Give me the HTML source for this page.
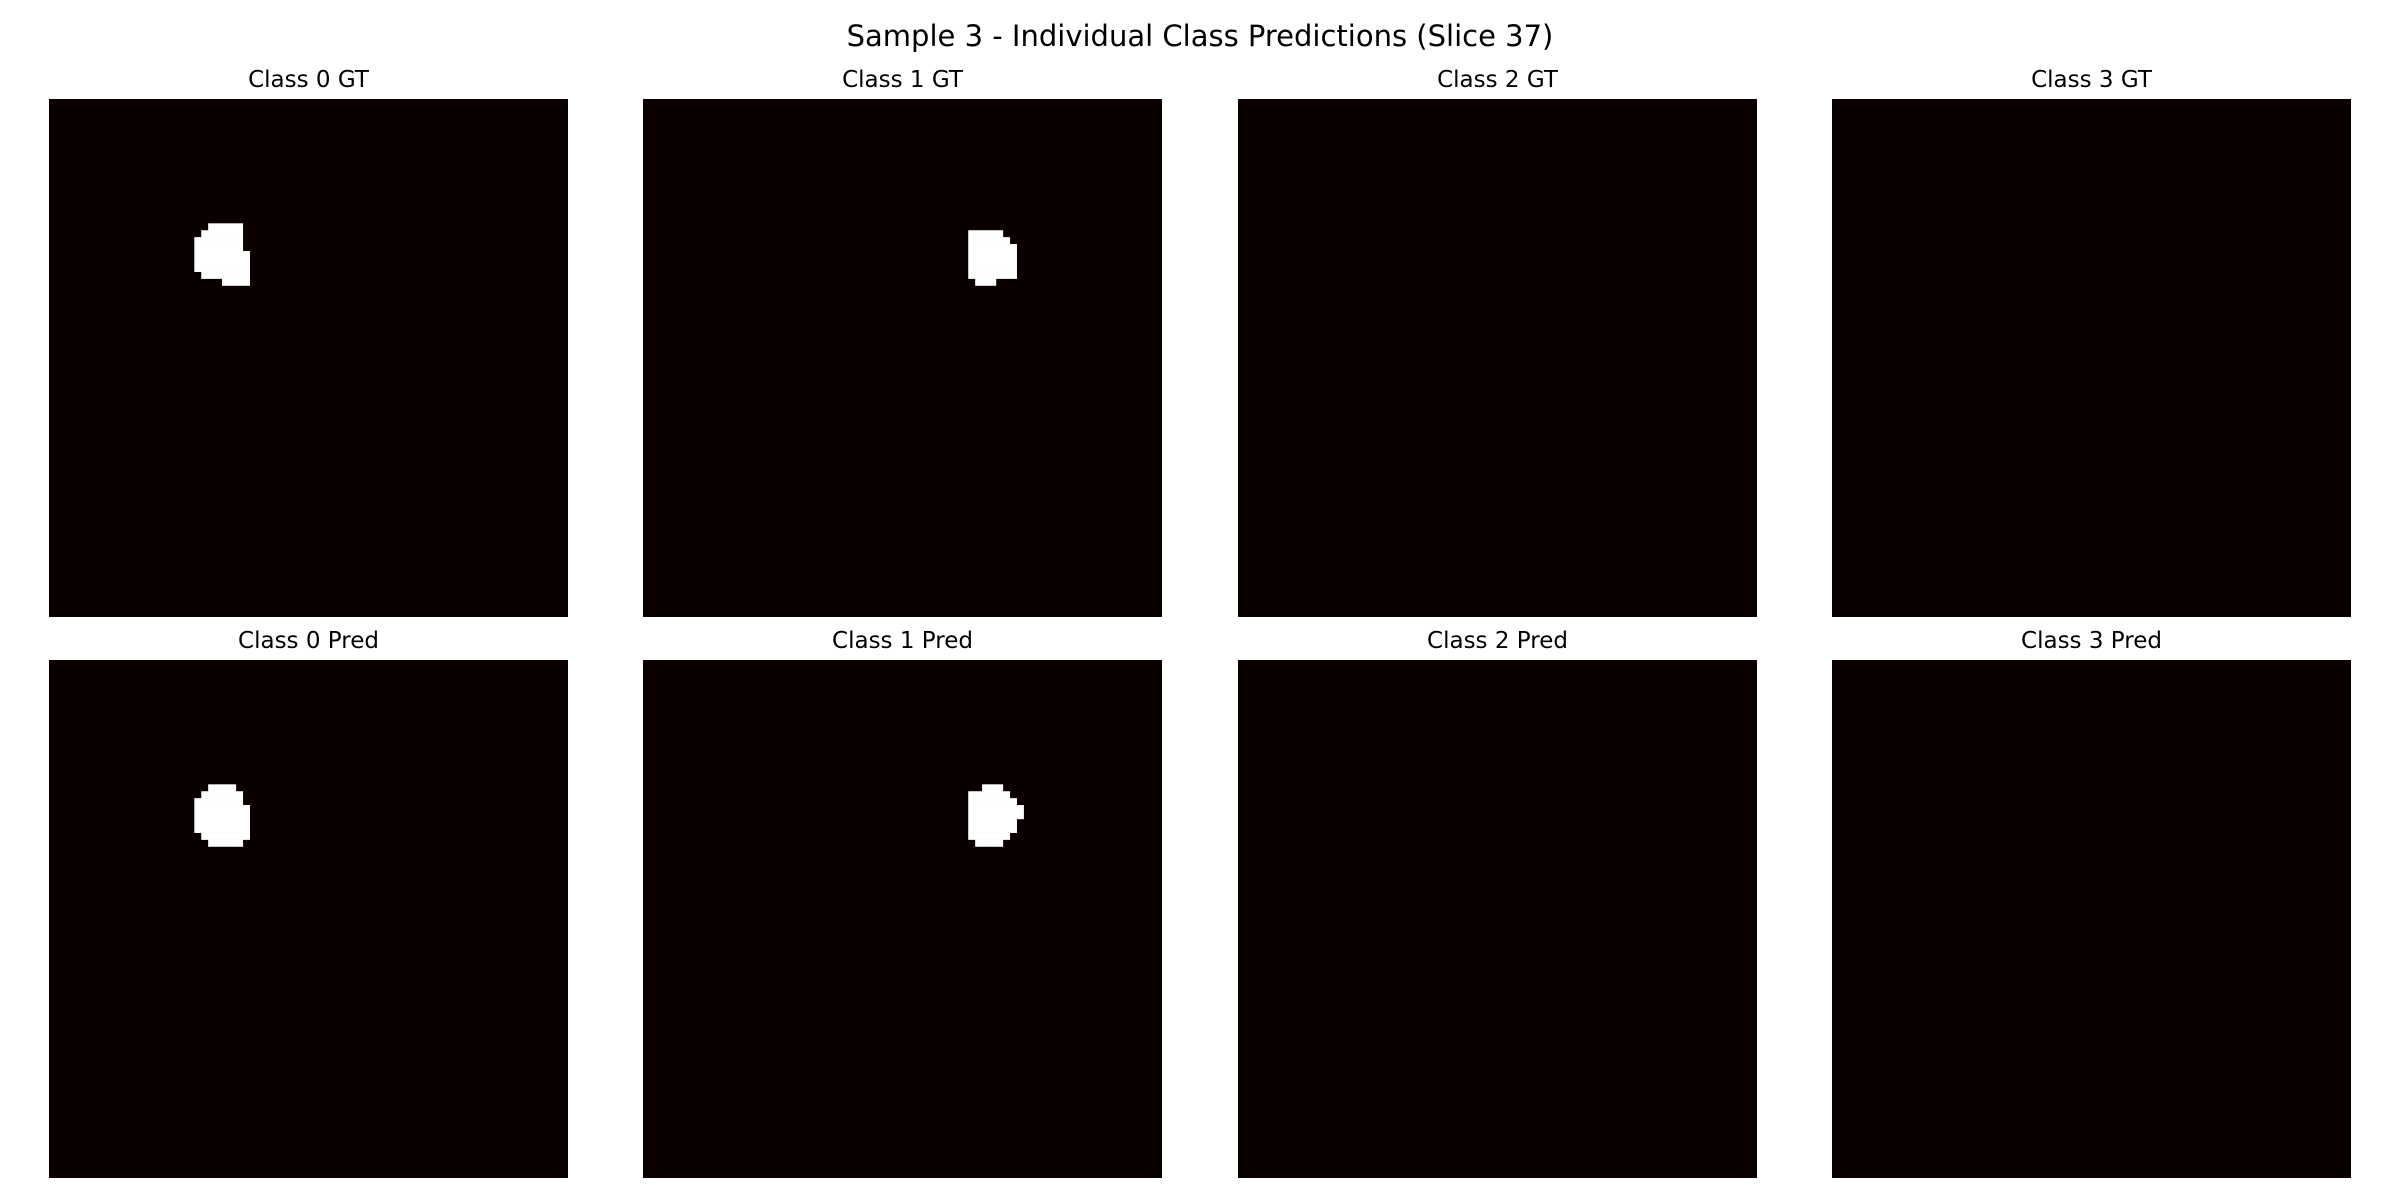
<!DOCTYPE html>
<html><head><meta charset="utf-8"><style>
html,body{margin:0;padding:0;background:#fff;}
svg{display:block;}
text{font-family:"DejaVu Sans","Liberation Sans",sans-serif;fill:#000;}
</style></head><body>
<svg id="fig" width="2400" height="1200" viewBox="0 0 2400 1200">
<text x="1200" y="46" text-anchor="middle" font-size="29">Sample 3 - Individual Class Predictions (Slice 37)</text>
<g id="panels"></g>
</svg>
<script>
const panelTitles = ["Class 0 GT","Class 1 GT","Class 2 GT","Class 3 GT","Class 0 Pred","Class 1 Pred","Class 2 Pred","Class 3 Pred"];
const gridSize = 75;
// masks: [rowStart, colStart, rows of [c0,c1] inclusive]
const maskClass0GT = [18,21,[[2,6],[1,6],[0,6],[0,6],[0,7],[0,7],[0,7],[1,7],[4,7]]];
const maskClass1GT = [19,47,[[0,4],[0,5],[0,6],[0,6],[0,6],[0,6],[0,6],[1,3]]];
const maskClass0Pred = [18,21,[[2,5],[1,6],[0,6],[0,7],[0,7],[0,7],[0,7],[1,7],[2,6]]];
const maskClass1Pred = [18,47,[[2,4],[0,5],[0,6],[0,7],[0,7],[0,6],[0,6],[0,5],[1,4]]];
const masks = [maskClass0GT, maskClass1GT, null, null, maskClass0Pred, maskClass1Pred, null, null];

const ns = "http://www.w3.org/2000/svg";
const g = document.getElementById("panels");
const colX = [49,643,1238,1832], rowY = [99,660], pw = 519, ph = 518;
panelTitles.forEach((t,i)=>{
  const x0 = colX[i%4], y0 = rowY[Math.floor(i/4)];
  const cell = pw/gridSize, cellY = ph/gridSize;
  const grp = document.createElementNS(ns,"g");
  
  
  const bg = document.createElementNS(ns,"rect");
  bg.setAttribute("x",x0); bg.setAttribute("y",y0); bg.setAttribute("width",pw); bg.setAttribute("height",ph);
  bg.setAttribute("fill","#0b0000");
  
  
  grp.appendChild(bg);
  const m = masks[i];
  if (m) {
    const [r0,c0,rows] = m;
    rows.forEach((seg,k)=>{
      const r = document.createElementNS(ns,"rect");
      r.setAttribute("x",(x0 + (c0+seg[0])*cell).toFixed(2));
      r.setAttribute("y",(y0 + (r0+k)*cellY).toFixed(2));
      r.setAttribute("width",((seg[1]-seg[0]+1)*cell+0.3).toFixed(2));
      r.setAttribute("height",(cellY+0.3).toFixed(2));
      r.setAttribute("fill","#ffffff");
      
      
      grp.appendChild(r);
    });
  }
  const tx = document.createElementNS(ns,"text");
  tx.setAttribute("x", x0 + pw/2); tx.setAttribute("y", y0 - 12);
  tx.setAttribute("text-anchor","middle"); tx.setAttribute("font-size","23");
  tx.textContent = t;
  
  
  grp.appendChild(tx);
  g.appendChild(grp);
});
</script>
</body></html>
